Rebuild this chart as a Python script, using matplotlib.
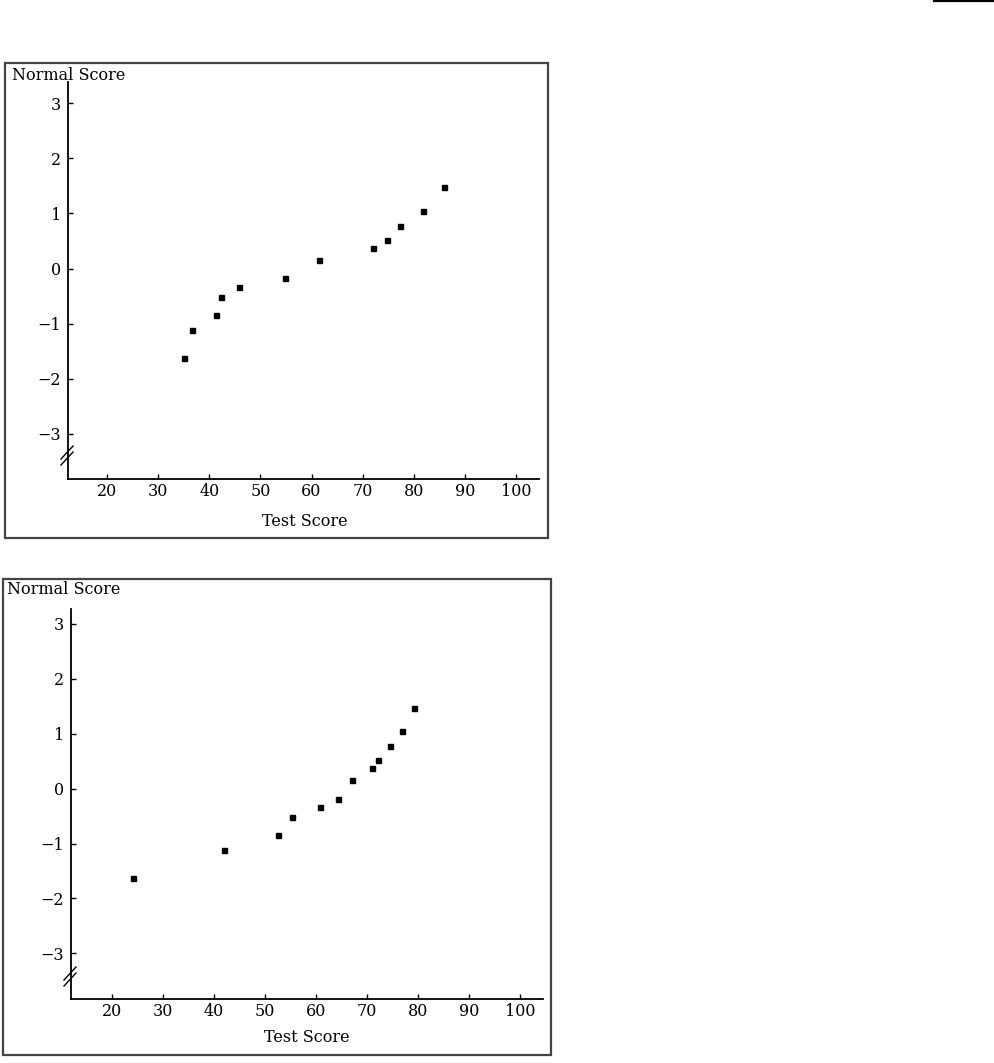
import matplotlib
matplotlib.use("Agg")
import matplotlib.pyplot as plt
from matplotlib.patches import Rectangle
from matplotlib.lines import Line2D

# values
normal_scores = [-1.63, -1.12, -0.84, -0.51, -0.34, -0.18, 0.15, 0.38, 0.52, 0.78, 1.04, 1.47]
scores_top = [35.1, 36.6, 41.4, 42.2, 45.8, 54.9, 61.4, 72.0, 74.7, 77.3, 81.8, 85.9]
scores_bottom = [24.2, 42.0, 52.6, 55.3, 60.8, 64.4, 67.1, 70.9, 72.1, 74.5, 76.9, 79.2]

x_ticks = [20, 30, 40, 50, 60, 70, 80, 90, 100]
y_ticks = [-3, -2, -1, 0, 1, 2, 3]
y_labels = ["\u22123", "\u22122", "\u22121", "0", "1", "2", "3"]
x_name = "Test Score"
y_name = "Normal Score"

W, H = 994, 1063
plt.rcParams['font.family'] = ['DejaVu Serif']
fig = plt.figure(figsize=(W / 100, H / 100), dpi=100)


def px_box(x0, y0, x1, y1):
    # pixel box (top-left origin) -> figure fraction rect
    return [x0 / W, 1 - y1 / H, (x1 - x0) / W, (y1 - y0) / H]


def panel(frame, axbox, xlim, ylim, xs, ys, ylab_pos, xlab_pos, brk_y):
    fx0, fy0, fx1, fy1 = frame
    fig.add_artist(Rectangle((fx0 / W, 1 - fy1 / H), (fx1 - fx0) / W, (fy1 - fy0) / H,
                             transform=fig.transFigure, fill=False,
                             edgecolor='#444444', linewidth=1.6))
    ax = fig.add_axes(px_box(*axbox))
    ax.plot(xs, ys, 's', color='black', markersize=3.6, clip_on=False)
    ax.set_xlim(*xlim)
    ax.set_ylim(*ylim)
    for s in ['top', 'right']:
        ax.spines[s].set_visible(False)
    for s in ['left', 'bottom']:
        ax.spines[s].set_linewidth(1.3)
    ax.set_xticks(x_ticks)
    ax.set_yticks(y_ticks)
    ax.set_yticklabels(y_labels)
    ax.tick_params(direction='in', length=3.5, width=1.0, labelsize=11.5)
    ax.tick_params(axis='x', pad=3)
    ax.tick_params(axis='y', pad=5)
    ax.patch.set_alpha(0)
    fig.text(ylab_pos[0] / W, 1 - ylab_pos[1] / H, y_name, ha='left', va='center', fontsize=11.5)
    fig.text(xlab_pos[0] / W, 1 - xlab_pos[1] / H, x_name, ha='center', va='center', fontsize=11.5)
    # axis break marks
    ax_x = axbox[0]
    for d in (-3, 3):
        fig.add_artist(Line2D([(ax_x - 7) / W, (ax_x + 5) / W],
                              [1 - (brk_y + 7 + d) / H, 1 - (brk_y - 6 + d) / H],
                              transform=fig.transFigure, color='black', linewidth=1.0))
    return ax


panel((5, 63, 548, 538), (68, 81.7, 539, 479), (12.37, 104.5), (-3.82, 3.39),
      scores_top, normal_scores, (12, 75), (305, 521), 455)
panel((3, 579, 551, 1055), (71, 609, 543, 999), (12.02, 104.47), (-3.83, 3.27),
      scores_bottom, normal_scores, (7, 590), (307, 1038), 976)

# short bar at top right
fig.add_artist(Line2D([934 / W, 1.0], [1 - 1 / H, 1 - 1 / H], transform=fig.transFigure,
                      color='black', linewidth=1.6))

fig.savefig("out.png", dpi=100)
